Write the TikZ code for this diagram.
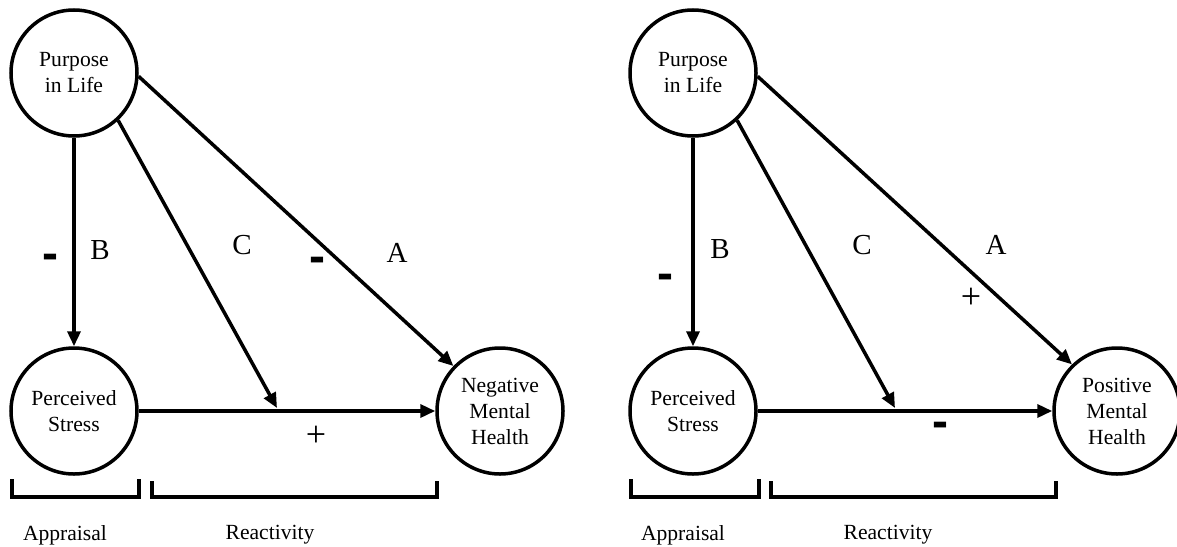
\documentclass[tikz,border=0pt]{standalone}
\usepackage{fontspec}
\setmainfont{Liberation Serif}
\newfontfamily\dashfont{Liberation Sans}
\usetikzlibrary{arrows.meta}
\begin{document}
\begin{tikzpicture}[x=0.5pt,y=-0.5pt,
  var/.style={circle,draw,line width=1.75pt,minimum size=63pt,inner sep=0pt,align=center,font=\fontsize{10.8}{13}\selectfont},
  arr/.style={line width=1.75pt,-{Triangle[length=7.5pt,width=6.5pt]}},
  bracket/.style={line width=1.6pt},
  lab/.style={inner sep=0pt,font=\fontsize{14.5}{16}\selectfont},
  plus/.style={inner sep=0pt,font=\fontsize{18}{18}\selectfont},
  minus/.style={inner sep=0pt,font=\dashfont\bfseries\fontsize{24}{24}\selectfont},
  brlabel/.style={inner sep=0pt,font=\fontsize{10.8}{13}\selectfont}]
\useasboundingbox (0,0) rectangle (1177,546);

% ---------- left model ----------
\node[var] (pil1) at (74,73) {Purpose\\in Life};
\node[var] (ps1) at (74,411) {Perceived\\Stress};
\node[var] (nmh) at (500,411) {Negative\\Mental\\Health};
\coordinate (c1) at (277,408);

\draw[arr] (pil1.south) -- (ps1.north);
\draw[arr] (ps1.east) -- (nmh.west);
\draw[arr] (pil1.-47) -- (c1);
\draw[arr] (pil1.-3) -- (nmh.136);

\node[minus] (m1b) at (50,262) {-};
\node[lab] (b1) at (100,250) {B};
\node[lab] (cl1) at (242,245) {C};
\node[minus] (m1a) at (317,265) {-};
\node[lab] (a1) at (397,253) {A};
\node[plus] (p1) at (316,436) {+};

\draw[bracket] (12,479) -- (12,497) -- (139,497) -- (139,479);
\draw[bracket] (152,481) -- (152,497) -- (437,497) -- (437,481);
\node[brlabel] (ap1) at (65,535) {Appraisal};
\node[brlabel] (re1) at (270,535) {Reactivity};

% ---------- right model ----------
\node[var] (pil2) at (693,73) {Purpose\\in Life};
\node[var] (ps2) at (693,411) {Perceived\\Stress};
\node[var] (pmh) at (1117,411) {Positive\\Mental\\Health};
\coordinate (c2) at (895,408);

\draw[arr] (pil2.south) -- (ps2.north);
\draw[arr] (ps2.east) -- (pmh.west);
\draw[arr] (pil2.-47) -- (c2);
\draw[arr] (pil2.-3) -- (pmh.134);

\node[minus] (m2b) at (665,282) {-};
\node[lab] (b2) at (720,249) {B};
\node[lab] (cl2) at (862,245) {C};
\node[lab] (a2) at (996,245) {A};
\node[plus] (p2) at (971,298) {+};
\node[minus] (m2a) at (940,430) {-};

\draw[bracket] (631,479) -- (631,497) -- (759,497) -- (759,479);
\draw[bracket] (771,481) -- (771,497) -- (1056,497) -- (1056,481);
\node[brlabel] (ap2) at (683,535) {Appraisal};
\node[brlabel] (re2) at (888,535) {Reactivity};
\end{tikzpicture}
\end{document}
